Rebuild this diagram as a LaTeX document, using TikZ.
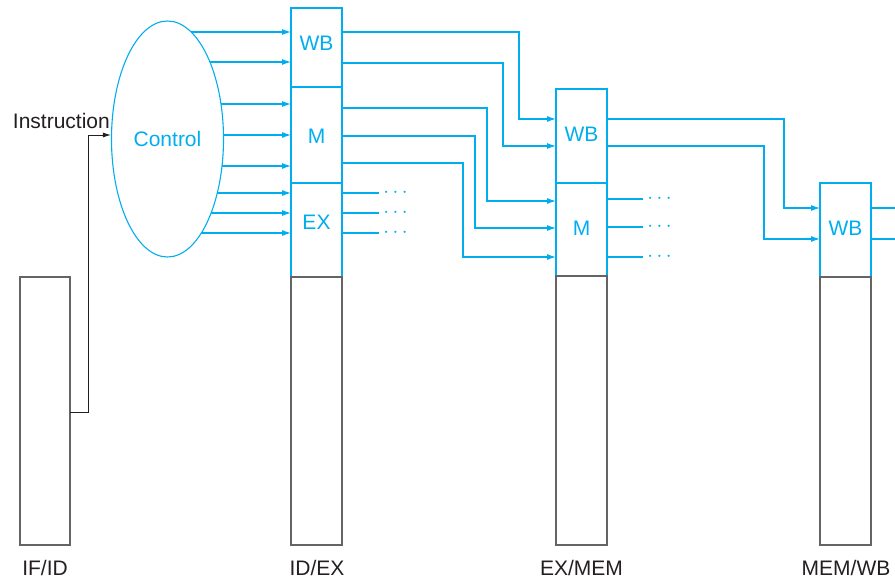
\documentclass[tikz,border=0pt]{standalone}
\usepackage{fontspec}
\setmainfont{Liberation Sans}
\usetikzlibrary{arrows.meta,shapes.geometric,backgrounds}
\definecolor{cblue}{RGB}{0,174,239}
\definecolor{cgray}{RGB}{100,100,100}
\definecolor{ctext}{RGB}{35,31,32}
\begin{document}
\begin{tikzpicture}[x=1pt,y=-1pt,
  every node/.style={font=\fontsize{21}{25}\selectfont},
  sect/.style={draw=cblue, line width=1.1pt, inner sep=0pt, outer sep=0pt, anchor=north west, minimum width=51pt},
  lowerbox/.style={draw=cgray, line width=1.1pt, inner sep=0pt, outer sep=0pt, anchor=north west, minimum width=51pt},
  btxt/.style={text=cblue, inner sep=0pt},
  ltxt/.style={text=ctext, inner sep=0pt, anchor=base},
  wire/.style={draw=cblue, line width=1.1pt, -{Latex[length=9pt,width=6pt]}},
  bline/.style={draw=cblue, line width=1.1pt},
  dotstxt/.style={text=cblue, inner sep=0pt, anchor=base},
]
\useasboundingbox (0,0) rectangle (895,580);

% ID/EX register
\node[sect, minimum height=79pt] (idwb) at (291,8) {};
\node[sect, minimum height=96pt] (idm) at (291,87) {};
\node[sect, minimum height=94pt] (idex) at (291,183) {};
\node[lowerbox, minimum height=268pt] (idlow) at (291,277) {};
\node[btxt] (tidwb) at (316.5,43) {WB};
\node[btxt] (tidm) at (316.5,136) {M};
\node[btxt] (tidex) at (316.5,222) {EX};

% EX/MEM register
\node[sect, minimum height=94pt] (exwb) at (556,89) {};
\node[sect, minimum height=93pt] (exm) at (556,183) {};
\node[lowerbox, minimum height=269pt] (exlow) at (556,276) {};
\node[btxt] (texwb) at (581.5,134) {WB};
\node[btxt] (texm) at (581.5,228) {M};

% MEM/WB register
\node[sect, minimum height=94pt] (mwb) at (820,183) {};
\node[lowerbox, minimum height=268pt] (mlow) at (820,277) {};
\node[btxt] (tmwb) at (845.5,228) {WB};

% IF/ID register
\node[lowerbox, minimum height=268pt, minimum width=50pt] (ifid) at (20,277) {};

% bottom labels
\node[ltxt] (lifid) at (45,575) {IF/ID};
\node[ltxt] (lidex) at (317,575) {ID/EX};
\node[ltxt] (lexmem) at (581.5,575) {EX/MEM};
\node[ltxt] (lmemwb) at (846,575) {MEM/WB};

% Control
\node[ellipse, draw=cblue, fill=white, line width=1.1pt, minimum width=112pt, minimum height=236pt, inner sep=0pt, text=cblue] (ctrl) at (167.5,139) {Control};
\begin{pgfonlayer}{background}
  \foreach \yy in {32,62,104,135,166,193,213,233}
    \draw[wire] (ctrl.center |- 0,\yy) -- (idwb.west |- 0,\yy);
\end{pgfonlayer}

% Instruction
\node[ltxt, anchor=base east] (linstr) at (110,129) {Instruction};
\draw[draw=ctext, line width=0.9pt, -{Latex[length=8pt,width=5pt]}] (ifid.east |- 0,412) -| (88,135) -- (ctrl.west |- 0,135);

% ID/EX -> EX/MEM
\draw[wire] (idwb.east |- 0,32) -| (519,119) -- (exwb.west |- 0,119);
\draw[wire] (idwb.east |- 0,63) -| (503,146) -- (exwb.west |- 0,146);
\draw[wire] (idm.east |- 0,108) -| (487,201) -- (exm.west |- 0,201);
\draw[wire] (idm.east |- 0,136) -| (475,228) -- (exm.west |- 0,228);
\draw[wire] (idm.east |- 0,163) -| (463,257) -- (exm.west |- 0,257);

% EX outputs
\foreach \yy/\nm in {193/a,213/b,233/c}{
  \coordinate (exend\nm) at (379,\yy);
  \draw[bline] (idex.east |- exend\nm) -- (exend\nm);
  \node[dotstxt] (exdots\nm) at (395.5,\yy+5) {$\cdots$};
}

% EX/MEM -> MEM/WB
\draw[wire] (exwb.east |- 0,119) -| (784,208) -- (mwb.west |- 0,208);
\draw[wire] (exwb.east |- 0,146) -| (764,239) -- (mwb.west |- 0,239);

% M outputs
\foreach \yy/\nm in {199/a,227/b,257/c}{
  \coordinate (mend\nm) at (643,\yy);
  \draw[bline] (exm.east |- mend\nm) -- (mend\nm);
  \node[dotstxt] (mdots\nm) at (659.5,\yy+5) {$\cdots$};
}

% MEM/WB outputs
\coordinate (wbenda) at (895,208);
\coordinate (wbendb) at (895,239);
\draw[bline] (mwb.east |- wbenda) -- (wbenda);
\draw[bline] (mwb.east |- wbendb) -- (wbendb);
\end{tikzpicture}
\end{document}
